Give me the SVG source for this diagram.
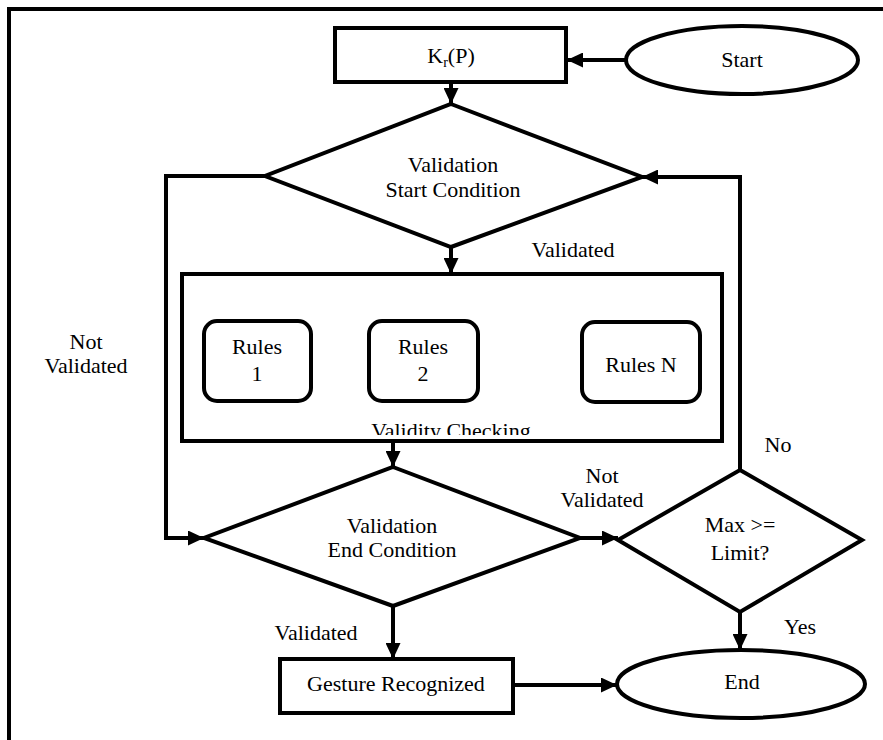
<svg xmlns="http://www.w3.org/2000/svg" width="883" height="740" viewBox="0 0 883 740">
<style>
  .shape { fill: #fff; stroke: #000; stroke-width: 4; }
  .line { fill: none; stroke: #000; stroke-width: 4; }
  .arr { fill: none; stroke: #000; stroke-width: 4; marker-end: url(#ah); }
  text { font-family: "Liberation Serif", "Times New Roman", serif; font-size: 22px; fill: #000; text-anchor: middle; }
</style>
<defs>
  <marker id="ah" markerUnits="userSpaceOnUse" markerWidth="16" markerHeight="15" refX="16" refY="7.5" orient="auto">
    <path d="M0,0 L16,7.5 L0,15 z" fill="#000"/>
  </marker>
  <clipPath id="vcclip"><rect x="182" y="274" width="540" height="161"/></clipPath>
</defs>
<rect x="0" y="0" width="883" height="740" fill="#fff"/>
<g id="border"><path class="line" d="M9,745 L9,9 L890,9" stroke-width="3"/></g>

<g id="connectors">
  <line class="arr" x1="626" y1="60" x2="567" y2="60"/>
  <line class="arr" x1="451" y1="82" x2="451" y2="104"/>
  <line class="arr" x1="451" y1="247" x2="451" y2="274"/>
  <polyline class="arr" points="265,176 166,176 166,538 204,538"/>
  <polyline class="arr" points="740,470 740,177 642,177"/>
  <line class="arr" x1="393" y1="441" x2="393" y2="467"/>
  <line class="arr" x1="580" y1="538" x2="618" y2="538"/>
  <line class="arr" x1="393" y1="606" x2="393" y2="659"/>
  <line class="arr" x1="740" y1="612" x2="740" y2="650"/>
  <line class="arr" x1="513" y1="685" x2="617" y2="685"/>
  <line class="line" x1="486" y1="365" x2="575" y2="365" stroke-dasharray="18 18"/>
</g>

<g id="start">
  <ellipse class="shape" cx="742" cy="60" rx="116" ry="34"/>
  <text x="742" y="67">Start</text>
</g>
<g id="krp">
  <rect class="shape" x="335" y="28" width="231" height="54"/>
  <text x="451" y="63">K<tspan font-size="14" dy="4">r</tspan><tspan dy="-4">(P)</tspan></text>
</g>
<g id="start-cond">
  <polygon class="shape" points="451,104 642,177 451,247 265,176"/>
  <text x="453" y="172">Validation</text>
  <text x="453" y="197">Start Condition</text>
</g>
<g id="validity">
  <rect class="shape" x="182" y="274" width="540" height="167"/>
  <text x="451" y="438" clip-path="url(#vcclip)">Validity Checking</text>
</g>
<g id="rules1">
  <rect class="shape" x="204" y="321" width="107" height="80" rx="13"/>
  <text x="257" y="354">Rules</text>
  <text x="257" y="381">1</text>
</g>
<g id="rules2">
  <rect class="shape" x="369" y="321" width="109" height="80" rx="13"/>
  <text x="423" y="354">Rules</text>
  <text x="423" y="381">2</text>
</g>
<g id="rulesN">
  <rect class="shape" x="582" y="322" width="118" height="80" rx="13"/>
  <text x="641" y="372">Rules N</text>
</g>
<g id="end-cond">
  <polygon class="shape" points="393,467 580,538 393,606 204,538"/>
  <text x="392" y="533">Validation</text>
  <text x="392" y="557">End Condition</text>
</g>
<g id="max">
  <polygon class="shape" points="740,470 862,540 740,612 618,540"/>
  <text x="740" y="532">Max &gt;=</text>
  <text x="740" y="560">Limit?</text>
</g>
<g id="gesture">
  <rect class="shape" x="280" y="659" width="233" height="54"/>
  <text x="396" y="691">Gesture Recognized</text>
</g>
<g id="end">
  <ellipse class="shape" cx="741" cy="684" rx="124" ry="34"/>
  <text x="742" y="689">End</text>
</g>

<g id="labels">
  <text x="573" y="257">Validated</text>
  <text x="86" y="349">Not</text>
  <text x="86" y="373">Validated</text>
  <text x="778" y="452">No</text>
  <text x="602" y="483">Not</text>
  <text x="602" y="507">Validated</text>
  <text x="316" y="640">Validated</text>
  <text x="800" y="634">Yes</text>
</g>
</svg>
